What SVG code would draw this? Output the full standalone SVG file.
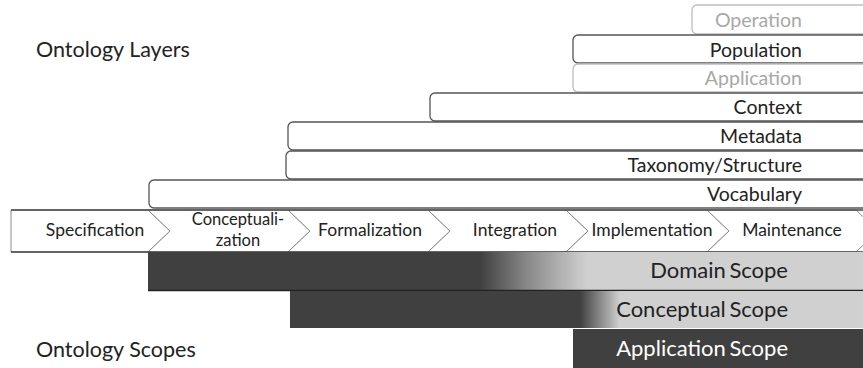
<svg xmlns="http://www.w3.org/2000/svg" width="863" height="368" viewBox="0 0 863 368">
<defs>
<style>
text{font-family:Lato,"Liberation Sans",sans-serif;}
.layer rect{fill:#fff;stroke:#555;stroke-width:1.3;}
.layer text{font-size:19.5px;fill:#222;text-anchor:end;}
.faint rect{stroke:#bdbdbd;}
.faint text{fill:#a8a8a8;}
.step polygon{fill:#fff;stroke:#8a8a8a;stroke-width:1;}
.step text{font-size:17.5px;fill:#222;text-anchor:middle;}
.step text.two{font-size:16.5px;}
.title{font-size:21.5px;fill:#222;}
.scope text{font-size:22px;text-anchor:end;word-spacing:-2px;}
</style>
<linearGradient id="gDomain" gradientUnits="userSpaceOnUse" x1="480" y1="0" x2="587" y2="0">
<stop offset="0" stop-color="#404040"/><stop offset="0.45" stop-color="#8a8a8a"/><stop offset="1" stop-color="#d0d0d0"/>
</linearGradient>
<linearGradient id="gConcept" gradientUnits="userSpaceOnUse" x1="580" y1="0" x2="620" y2="0">
<stop offset="0" stop-color="#404040"/><stop offset="1" stop-color="#d0d0d0"/>
</linearGradient>
</defs>
<rect width="863" height="368" fill="#fff"/>
<text class="title" x="36" y="57">Ontology Layers</text>
<text class="title" x="36" y="357">Ontology Scopes</text>

<g id="layer-operation" class="layer faint"><rect x="692" y="5" width="220" height="29" rx="5"/><text x="802" y="27">Operation</text></g>
<g id="layer-population" class="layer"><rect x="573" y="35" width="340" height="28" rx="5"/><text x="802" y="57">Population</text></g>
<g id="layer-application" class="layer faint"><rect x="573" y="64" width="340" height="28" rx="5"/><text x="802" y="85">Application</text></g>
<g id="layer-context" class="layer"><rect x="430" y="93" width="480" height="28" rx="5"/><text x="802" y="114">Context</text></g>
<g id="layer-metadata" class="layer"><rect x="288" y="122" width="620" height="28" rx="5"/><text x="802" y="143">Metadata</text></g>
<g id="layer-taxonomy" class="layer"><rect x="286" y="151" width="620" height="28" rx="5"/><text x="802" y="172">Taxonomy/Structure</text></g>
<g id="layer-vocabulary" class="layer"><rect x="149" y="180" width="760" height="28" rx="5"/><text x="802" y="201">Vocabulary</text></g>

<g id="step-specification" class="step"><polygon points="11,210 148,210 170,231 148,252 11,252"/><text x="95" y="236">Specification</text></g>
<g id="step-conceptualization" class="step"><polygon points="148,210 288,210 310,231 288,252 148,252 170,231"/><text class="two" x="238" y="225">Conceptuali-</text><text class="two" x="238" y="246">zation</text></g>
<g id="step-formalization" class="step"><polygon points="288,210 428,210 450,231 428,252 288,252 310,231"/><text x="370" y="236">Formalization</text></g>
<g id="step-integration" class="step"><polygon points="428,210 566,210 588,231 566,252 428,252 450,231"/><text x="515" y="236">Integration</text></g>
<g id="step-implementation" class="step"><polygon points="566,210 707,210 729,231 707,252 566,252 588,231"/><text x="652" y="236">Implementation</text></g>
<g id="step-maintenance" class="step"><polygon points="707,210 856,210 878,231 856,252 707,252 729,231"/><text x="792" y="236">Maintenance</text></g>
<g id="connectors"><path d="M11,210H863M11,252H863" stroke="#444" stroke-width="1.3" fill="none"/></g>

<g id="scope-domain" class="scope"><rect x="148" y="252" width="715" height="38" fill="url(#gDomain)"/><line x1="148" y1="290.5" x2="863" y2="290.5" stroke="#222" stroke-width="1.5"/><text x="788" y="278" fill="#222">Domain Scope</text></g>
<g id="scope-conceptual" class="scope"><rect x="290" y="291" width="573" height="37" fill="url(#gConcept)"/><text x="788" y="317" fill="#222">Conceptual Scope</text></g>
<g id="scope-application" class="scope"><rect x="573" y="329" width="290" height="39" fill="#404040"/><text x="788" y="356" fill="#fff">Application Scope</text></g>
</svg>
